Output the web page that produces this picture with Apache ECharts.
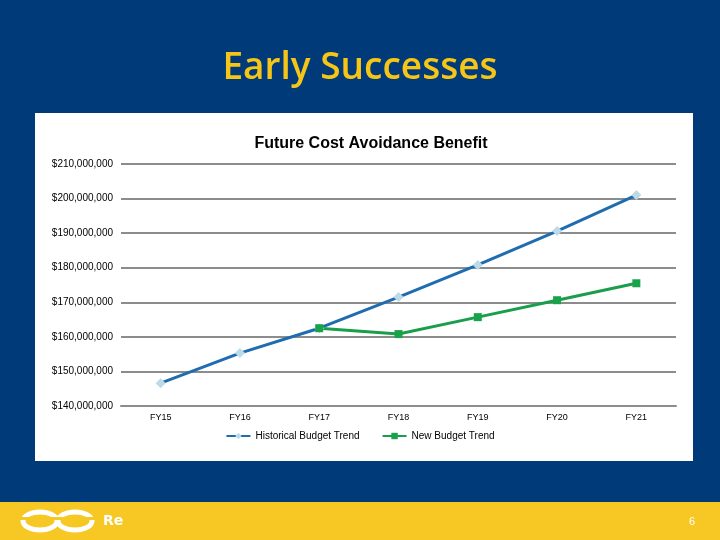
<!DOCTYPE html>
<html>
<head>
<meta charset="utf-8">
<script src="https://cdn.jsdelivr.net/npm/echarts@6/dist/echarts.min.js"></script>
<style>
  html, body { margin: 0; padding: 0; background: #003a78; }
  #chart { width: 720px; height: 540px; }
</style>
</head>
<body>
<div id="chart"></div>
<script>
var years = ['FY15', 'FY16', 'FY17', 'FY18', 'FY19', 'FY20', 'FY21'];
var historical = [146600000, 155300000, 162500000, 171500000, 180800000, 190600000, 201000000];
var newBudget = [null, null, 162500000, 160800000, 165700000, 170600000, 175500000];
var yMin = 140000000, yMax = 210000000, yStep = 10000000;

function money(v) {
  return '$' + String(v).replace(/\B(?=(\d{3})+(?!\d))/g, ',');
}

var myChart = echarts.init(document.getElementById('chart'));
var option = {
  backgroundColor: '#003a78',
  animation: false,
  graphic: [
    { type: 'rect', z: -10, shape: { x: 35, y: 113, width: 658, height: 348 }, style: { fill: '#ffffff' } },
    { type: 'rect', z: -10, shape: { x: 0, y: 502, width: 720, height: 38 }, style: { fill: '#f7c823' } },
    { type: 'ellipse', shape: { cx: 40, cy: 521, rx: 17, ry: 9 }, style: { fill: 'none', stroke: '#ffffff', lineWidth: 5 } },
    { type: 'ellipse', shape: { cx: 75, cy: 521, rx: 17, ry: 9 }, style: { fill: 'none', stroke: '#ffffff', lineWidth: 5 } },
    { type: 'rect', shape: { x: 20, y: 517, width: 75, height: 3 }, style: { fill: '#f7c823' } },
    { type: 'text', style: { x: 103, y: 514, text: 'Re', fill: '#ffffff', font: 'bold 14px "DejaVu Sans"' } },
    { type: 'text', style: { x: 692, y: 522, text: '6', fill: '#ffffff', font: '11px "Liberation Sans"', align: 'center', verticalAlign: 'middle' } }
  ],
  title: [
    {
      text: 'Early Successes',
      left: 'center',
      top: 45,
      textStyle: { color: '#f5c518', fontSize: 37, fontWeight: 600, fontFamily: 'Open Sans' }
    },
    {
      text: 'Future Cost Avoidance Benefit',
      left: 366,
      textAlign: 'center',
      top: 131,
      textStyle: { color: '#000000', fontSize: 16, fontWeight: 'bold', fontFamily: 'Liberation Sans' }
    }
  ],
  legend: {
    bottom: 94,
    left: 'center',
    itemGap: 22,
    itemWidth: 24,
    itemHeight: 8,
    textStyle: { color: '#000', fontSize: 10, fontFamily: 'Liberation Sans' },
    data: ['Historical Budget Trend', 'New Budget Trend']
  },
  grid: { left: 121, right: 44, top: 164, bottom: 134 },
  xAxis: {
    type: 'category',
    data: years,
    boundaryGap: true,
    axisLine: { show: true, lineStyle: { color: '#8c8c8c', width: 2 } },
    axisTick: { show: false },
    axisLabel: { color: '#000', fontSize: 9, fontFamily: 'Liberation Sans', margin: 7 }
  },
  yAxis: {
    type: 'value',
    min: yMin,
    max: yMax,
    interval: yStep,
    axisLine: { show: false },
    axisTick: { show: false },
    splitLine: { lineStyle: { color: '#8c8c8c', width: 2 } },
    axisLabel: { color: '#000', fontSize: 10, fontFamily: 'Liberation Sans', margin: 8, formatter: money }
  },
  series: [
    {
      name: 'Historical Budget Trend',
      type: 'line',
      data: historical,
      symbol: 'diamond',
      symbolSize: 10,
      lineStyle: { color: '#1f6cb0', width: 3 },
      itemStyle: { color: '#bcdbe8' }
    },
    {
      name: 'New Budget Trend',
      type: 'line',
      data: newBudget,
      symbol: 'rect',
      symbolSize: 8,
      lineStyle: { color: '#1a9e4c', width: 3 },
      itemStyle: { color: '#16a34a' }
    }
  ]
};
myChart.setOption(option, true);
</script>
</body>
</html>
